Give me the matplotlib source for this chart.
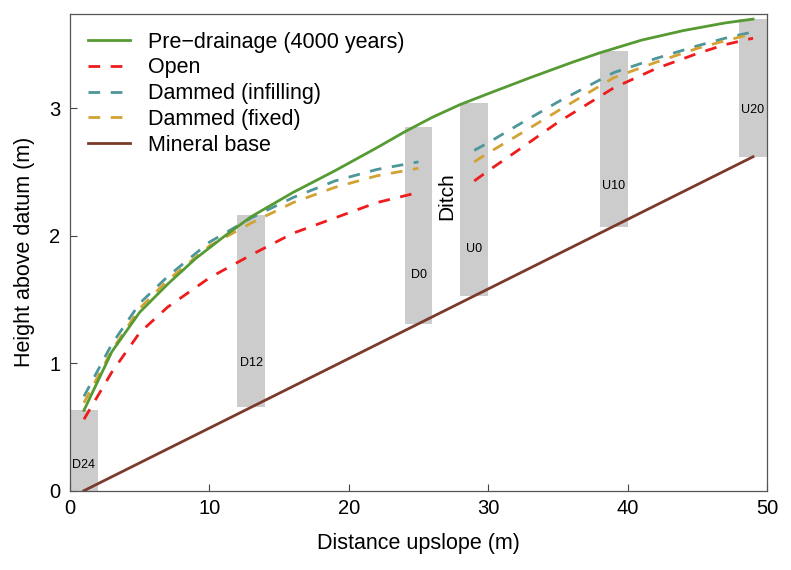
import matplotlib
matplotlib.use("Agg")
import matplotlib.pyplot as plt

plt.rcParams['font.family'] = ['Liberation Sans', 'DejaVu Sans']

# --- data ---
pre_x = [1, 3, 5, 7, 9, 11, 13, 16, 19, 22, 24, 26, 28, 30, 33, 36, 38, 41, 44, 47, 49]
pre_y = [0.63, 1.09, 1.40, 1.62, 1.82, 1.99, 2.15, 2.34, 2.51, 2.69, 2.815, 2.93, 3.03,
         3.115, 3.24, 3.36, 3.435, 3.535, 3.61, 3.67, 3.70]

left_x = [1, 3, 5, 7, 10, 13, 16, 19, 22, 25]
right_x = [29, 30, 32, 35, 39, 42, 45, 47, 49]

open_left = [0.56, 0.93, 1.24, 1.44, 1.67, 1.85, 2.02, 2.14, 2.26, 2.34]
open_right = [2.43, 2.51, 2.66, 2.89, 3.16, 3.31, 3.43, 3.50, 3.55]

infill_left = [0.74, 1.15, 1.47, 1.68, 1.95, 2.14, 2.30, 2.43, 2.52, 2.58]
infill_right = [2.67, 2.73, 2.86, 3.05, 3.28, 3.39, 3.49, 3.55, 3.60]

fixed_left = [0.69, 1.10, 1.43, 1.65, 1.92, 2.10, 2.26, 2.38, 2.47, 2.53]
fixed_right = [2.58, 2.65, 2.78, 2.98, 3.24, 3.36, 3.47, 3.53, 3.585]

base_x = [1, 49]
base_y = [0.0, 2.62]

core_names = ["D24", "D12", "D0", "U0", "U10", "U20"]
core_x = [1, 13, 25, 29, 39, 49]
core_bottom = [0.0, 0.655, 1.31, 1.53, 2.07, 2.62]
core_top = [0.63, 2.16, 2.85, 3.04, 3.45, 3.70]
core_label_y = [0.20, 1.00, 1.69, 1.90, 2.39, 2.99]

x_ticks = [0, 10, 20, 30, 40, 50]
y_ticks = [0, 1, 2, 3]

# --- figure ---
fig = plt.figure(figsize=(7.91, 5.70), dpi=100)
ax = fig.add_axes([70/791, 1 - 490.7/570, 697/791, 476.7/570])

heights = [t - b for t, b in zip(core_top, core_bottom)]
ax.bar(core_x, heights, width=2, bottom=core_bottom, color='#cccccc', zorder=1)
for name, cx, ly in zip(core_names, core_x, core_label_y):
    ax.text(cx, ly, name, ha='center', va='center', fontsize=9, zorder=2)

ax.text(27.05, 2.31, "Ditch", rotation=90, ha='center', va='center', fontsize=15, zorder=2)

green = '#559a32'
red = '#ee1c1c'
teal = '#4d9699'
gold = '#d3a232'
brown = '#7c3a2a'
lw = 2.0
dash = (0, (4.2, 3.8))

ax.plot(pre_x, pre_y, color=green, lw=lw, zorder=5, label="Pre\u2212drainage (4000 years)")
ax.plot(left_x, open_left, color=red, lw=lw, ls=dash, zorder=4, label="Open")
ax.plot(right_x, open_right, color=red, lw=lw, ls=dash, zorder=4)
ax.plot(left_x, infill_left, color=teal, lw=lw, ls=dash, zorder=4, label="Dammed (infilling)")
ax.plot(right_x, infill_right, color=teal, lw=lw, ls=dash, zorder=4)
ax.plot(left_x, fixed_left, color=gold, lw=lw, ls=dash, zorder=4, label="Dammed (fixed)")
ax.plot(right_x, fixed_right, color=gold, lw=lw, ls=dash, zorder=4)
ax.plot(base_x, base_y, color=brown, lw=lw, zorder=5, label="Mineral base")

ax.set_xlim(0, 50)
ax.set_ylim(0, 3.74)
ax.set_xticks(x_ticks)
ax.set_yticks(y_ticks)
ax.tick_params(direction='in', length=5, width=0.8, color='#444444', labelsize=14.5)
ax.tick_params(axis='x', pad=6)
ax.tick_params(axis='y', pad=7)
for s in ax.spines.values():
    s.set_color('#555555')
    s.set_linewidth(0.9)

ax.set_xlabel("Distance upslope (m)", fontsize=15.5, labelpad=11)
ax.set_ylabel("Height above datum (m)", fontsize=15.5, labelpad=10)

leg = ax.legend(loc='upper left', bbox_to_anchor=(0.026, 0.963), frameon=False,
                fontsize=15.5, handlelength=1.95, handletextpad=0.85,
                labelspacing=0.22, borderpad=0, borderaxespad=0)

fig.savefig("out.png", dpi=100)
